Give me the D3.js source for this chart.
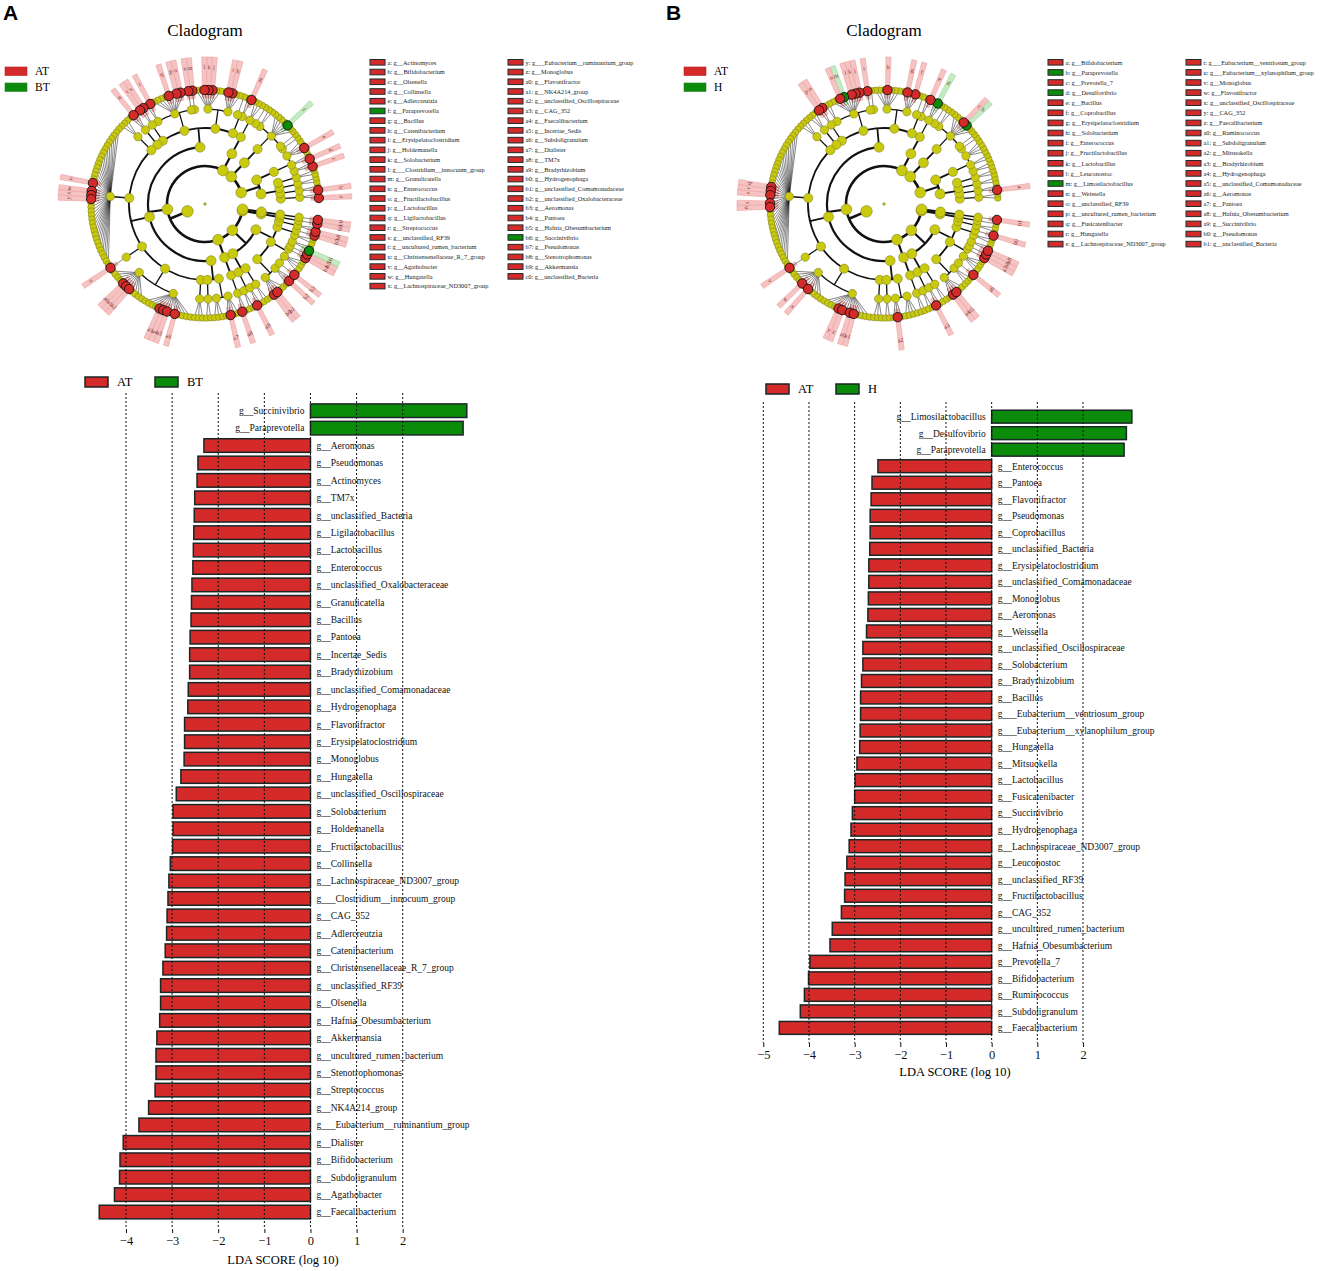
<!DOCTYPE html>
<html>
<head>
<meta charset="utf-8">
<script src="https://cdn.jsdelivr.net/npm/d3@7"></script>
<style>
body { margin: 0; background: #fff; }
text { font-family: "Liberation Serif", "Times New Roman", serif; }
</style>
</head>
<body>
<svg width="1325" height="1271"></svg>
<script>
// taxonomy used by both cladograms: phylum, class, order, family, unlabelled genera
const taxonomy = [
  ["Actinobacteriota","Actinobacteria","Actinomycetales","Actinomycetaceae",1],
  ["Actinobacteriota","Actinobacteria","Bifidobacteriales","Bifidobacteriaceae",1],
  ["Actinobacteriota","Actinobacteria","Corynebacteriales","Corynebacteriaceae",2],
  ["Actinobacteriota","Actinobacteria","Micrococcales","Micrococcaceae",2],
  ["Actinobacteriota","Coriobacteriia","Coriobacteriales","Atopobiaceae",1],
  ["Actinobacteriota","Coriobacteriia","Coriobacteriales","Coriobacteriaceae",1],
  ["Actinobacteriota","Coriobacteriia","Coriobacteriales","Eggerthellaceae",3],
  ["Bacteroidota","Bacteroidia","Bacteroidales","Bacteroidaceae",1],
  ["Bacteroidota","Bacteroidia","Bacteroidales","Muribaculaceae",1],
  ["Bacteroidota","Bacteroidia","Bacteroidales","Prevotellaceae",5],
  ["Bacteroidota","Bacteroidia","Bacteroidales","Rikenellaceae",2],
  ["Bacteroidota","Bacteroidia","Bacteroidales","Tannerellaceae",1],
  ["Desulfobacterota","Desulfovibrionia","Desulfovibrionales","Desulfovibrionaceae",2],
  ["Firmicutes","Bacilli","Bacillales","Bacillaceae",1],
  ["Firmicutes","Bacilli","Bacillales","Staphylococcaceae",1],
  ["Firmicutes","Bacilli","Erysipelotrichales","Erysipelatoclostridiaceae",2],
  ["Firmicutes","Bacilli","Erysipelotrichales","Erysipelotrichaceae",4],
  ["Firmicutes","Bacilli","Lactobacillales","Carnobacteriaceae",0],
  ["Firmicutes","Bacilli","Lactobacillales","Enterococcaceae",0],
  ["Firmicutes","Bacilli","Lactobacillales","Lactobacillaceae",3],
  ["Firmicutes","Bacilli","Lactobacillales","Streptococcaceae",1],
  ["Firmicutes","Bacilli","RF39","RF39_f",0],
  ["Firmicutes","Clostridia","Christensenellales","Christensenellaceae",2],
  ["Firmicutes","Clostridia","Clostridiales","Clostridiaceae",3],
  ["Firmicutes","Clostridia","Lachnospirales","Lachnospiraceae",30],
  ["Firmicutes","Clostridia","Monoglobales","Monoglobaceae",0],
  ["Firmicutes","Clostridia","Oscillospirales","Oscillospiraceae",8],
  ["Firmicutes","Clostridia","Oscillospirales","Ruminococcaceae",8],
  ["Firmicutes","Clostridia","Peptostreptococcales","Peptostreptococcaceae",3],
  ["Firmicutes","Negativicutes","Acidaminococcales","Acidaminococcaceae",2],
  ["Firmicutes","Negativicutes","Veillonellales","Selenomonadaceae",2],
  ["Firmicutes","Negativicutes","Veillonellales","Veillonellaceae",3],
  ["Patescibacteria","Saccharimonadia","Saccharimonadales","Saccharimonadaceae",1],
  ["Proteobacteria","Alphaproteobacteria","Rhizobiales","Rhizobiaceae",2],
  ["Proteobacteria","Alphaproteobacteria","Rhizobiales","Xanthobacteraceae",1],
  ["Proteobacteria","Alphaproteobacteria","Sphingomonadales","Sphingomonadaceae",2],
  ["Proteobacteria","Gammaproteobacteria","Burkholderiales","Comamonadaceae",3],
  ["Proteobacteria","Gammaproteobacteria","Burkholderiales","Oxalobacteraceae",2],
  ["Proteobacteria","Gammaproteobacteria","Enterobacterales","Aeromonadaceae",0],
  ["Proteobacteria","Gammaproteobacteria","Enterobacterales","Enterobacteriaceae",4],
  ["Proteobacteria","Gammaproteobacteria","Enterobacterales","Erwiniaceae",0],
  ["Proteobacteria","Gammaproteobacteria","Enterobacterales","Hafniaceae",0],
  ["Proteobacteria","Gammaproteobacteria","Enterobacterales","Succinivibrionaceae",1],
  ["Proteobacteria","Gammaproteobacteria","Pseudomonadales","Moraxellaceae",2],
  ["Proteobacteria","Gammaproteobacteria","Pseudomonadales","Pseudomonadaceae",0],
  ["Proteobacteria","Gammaproteobacteria","Xanthomonadales","Xanthomonadaceae",1],
  ["Verrucomicrobiota","Verrucomicrobiae","Verrucomicrobiales","Akkermansiaceae",0],
  ["Bacteria_unclassified","unclassified_c","unclassified_o","unclassified_f",0]
];

// named genera and their family
const genera = [
  ["Actinomyces","Actinomycetaceae"],["Bifidobacterium","Bifidobacteriaceae"],
  ["Olsenella","Atopobiaceae"],["Collinsella","Coriobacteriaceae"],["Adlercreutzia","Eggerthellaceae"],
  ["Paraprevotella","Prevotellaceae"],["Prevotella_7","Prevotellaceae"],
  ["Desulfovibrio","Desulfovibrionaceae"],["Bacillus","Bacillaceae"],
  ["Coprobacillus","Erysipelatoclostridiaceae"],["Catenibacterium","Erysipelatoclostridiaceae"],
  ["Erysipelatoclostridium","Erysipelatoclostridiaceae"],
  ["Holdemanella","Erysipelotrichaceae"],["Solobacterium","Erysipelotrichaceae"],
  ["_Clostridium__innocuum_group","Erysipelotrichaceae"],
  ["Granulicatella","Carnobacteriaceae"],["Enterococcus","Enterococcaceae"],
  ["Fructilactobacillus","Lactobacillaceae"],["Lactobacillus","Lactobacillaceae"],
  ["Leuconostoc","Lactobacillaceae"],["Ligilactobacillus","Lactobacillaceae"],
  ["Limosilactobacillus","Lactobacillaceae"],["Weissella","Lactobacillaceae"],
  ["Streptococcus","Streptococcaceae"],
  ["unclassified_RF39","RF39_f"],["uncultured_rumen_bacterium","RF39_f"],
  ["Christensenellaceae_R_7_group","Christensenellaceae"],
  ["Agathobacter","Lachnospiraceae"],["Fusicatenibacter","Lachnospiraceae"],
  ["Hungatella","Lachnospiraceae"],["Lachnospiraceae_ND3007_group","Lachnospiraceae"],
  ["_Eubacterium__ruminantium_group","Lachnospiraceae"],
  ["_Eubacterium__ventriosum_group","Lachnospiraceae"],
  ["_Eubacterium__xylanophilum_group","Lachnospiraceae"],
  ["Monoglobus","Monoglobaceae"],
  ["Flavonifractor","Oscillospiraceae"],["NK4A214_group","Oscillospiraceae"],
  ["unclassified_Oscillospiraceae","Oscillospiraceae"],
  ["CAG_352","Ruminococcaceae"],["Faecalibacterium","Ruminococcaceae"],
  ["Incertae_Sedis","Ruminococcaceae"],["Ruminococcus","Ruminococcaceae"],
  ["Subdoligranulum","Ruminococcaceae"],
  ["Mitsuokella","Selenomonadaceae"],["Dialister","Veillonellaceae"],
  ["TM7x","Saccharimonadaceae"],["Bradyrhizobium","Xanthobacteraceae"],
  ["Hydrogenophaga","Comamonadaceae"],["unclassified_Comamonadaceae","Comamonadaceae"],
  ["unclassified_Oxalobacteraceae","Oxalobacteraceae"],
  ["Aeromonas","Aeromonadaceae"],["Pantoea","Erwiniaceae"],
  ["Hafnia_Obesumbacterium","Hafniaceae"],["Succinivibrio","Succinivibrionaceae"],
  ["Pseudomonas","Pseudomonadaceae"],["Stenotrophomonas","Xanthomonadaceae"],
  ["Akkermansia","Akkermansiaceae"],["unclassified_Bacteria","unclassified_f"]
];

// cladogram legend order
const cladeA = ["Actinomyces","Bifidobacterium","Olsenella","Collinsella","Adlercreutzia","Paraprevotella",
  "Bacillus","Catenibacterium","Erysipelatoclostridium","Holdemanella","Solobacterium",
  "_Clostridium__innocuum_group","Granulicatella","Enterococcus","Fructilactobacillus","Lactobacillus",
  "Ligilactobacillus","Streptococcus","unclassified_RF39","uncultured_rumen_bacterium",
  "Christensenellaceae_R_7_group","Agathobacter","Hungatella","Lachnospiraceae_ND3007_group",
  "_Eubacterium__ruminantium_group","Monoglobus","Flavonifractor","NK4A214_group",
  "unclassified_Oscillospiraceae","CAG_352","Faecalibacterium","Incertae_Sedis","Subdoligranulum",
  "Dialister","TM7x","Bradyrhizobium","Hydrogenophaga","unclassified_Comamonadaceae",
  "unclassified_Oxalobacteraceae","Aeromonas","Pantoea","Hafnia_Obesumbacterium","Succinivibrio",
  "Pseudomonas","Stenotrophomonas","Akkermansia","unclassified_Bacteria"];
const cladeB = ["Bifidobacterium","Paraprevotella","Prevotella_7","Desulfovibrio","Bacillus","Coprobacillus",
  "Erysipelatoclostridium","Solobacterium","Enterococcus","Fructilactobacillus","Lactobacillus",
  "Leuconostoc","Limosilactobacillus","Weissella","unclassified_RF39","uncultured_rumen_bacterium",
  "Fusicatenibacter","Hungatella","Lachnospiraceae_ND3007_group","_Eubacterium__ventriosum_group",
  "_Eubacterium__xylanophilum_group","Monoglobus","Flavonifractor","unclassified_Oscillospiraceae",
  "CAG_352","Faecalibacterium","Ruminococcus","Subdoligranulum","Mitsuokella","Bradyrhizobium",
  "Hydrogenophaga","unclassified_Comamonadaceae","Aeromonas","Pantoea","Hafnia_Obesumbacterium",
  "Succinivibrio","Pseudomonas","unclassified_Bacteria"];

// LDA bars, top to bottom
const barNamesA = ["Succinivibrio","Paraprevotella","Aeromonas","Pseudomonas","Actinomyces","TM7x",
  "unclassified_Bacteria","Ligilactobacillus","Lactobacillus","Enterococcus","unclassified_Oxalobacteraceae",
  "Granulicatella","Bacillus","Pantoea","Incertae_Sedis","Bradyrhizobium","unclassified_Comamonadaceae",
  "Hydrogenophaga","Flavonifractor","Erysipelatoclostridium","Monoglobus","Hungatella",
  "unclassified_Oscillospiraceae","Solobacterium","Holdemanella","Fructilactobacillus","Collinsella",
  "Lachnospiraceae_ND3007_group","_Clostridium__innocuum_group","CAG_352","Adlercreutzia",
  "Catenibacterium","Christensenellaceae_R_7_group","unclassified_RF39","Olsenella",
  "Hafnia_Obesumbacterium","Akkermansia","uncultured_rumen_bacterium","Stenotrophomonas",
  "Streptococcus","NK4A214_group","_Eubacterium__ruminantium_group","Dialister","Bifidobacterium",
  "Subdoligranulum","Agathobacter","Faecalibacterium"];
const barValuesA = [3.39,3.31,-2.31,-2.44,-2.46,-2.51,-2.52,-2.53,-2.54,-2.55,-2.57,-2.58,-2.59,-2.61,
  -2.62,-2.62,-2.65,-2.66,-2.73,-2.73,-2.74,-2.81,-2.91,-2.98,-2.98,-2.99,-3.04,-3.07,-3.09,-3.11,
  -3.12,-3.15,-3.20,-3.25,-3.25,-3.27,-3.33,-3.35,-3.35,-3.37,-3.51,-3.72,-4.06,-4.13,-4.14,-4.25,-4.58];

const barNamesB = ["Limosilactobacillus","Desulfovibrio","Paraprevotella","Enterococcus","Pantoea",
  "Flavonifractor","Pseudomonas","Coprobacillus","unclassified_Bacteria","Erysipelatoclostridium",
  "unclassified_Comamonadaceae","Monoglobus","Aeromonas","Weissella","unclassified_Oscillospiraceae",
  "Solobacterium","Bradyrhizobium","Bacillus","_Eubacterium__ventriosum_group",
  "_Eubacterium__xylanophilum_group","Hungatella","Mitsuokella","Lactobacillus","Fusicatenibacter",
  "Succinivibrio","Hydrogenophaga","Lachnospiraceae_ND3007_group","Leuconostoc","unclassified_RF39",
  "Fructilactobacillus","CAG_352","uncultured_rumen_bacterium","Hafnia_Obesumbacterium","Prevotella_7",
  "Bifidobacterium","Ruminococcus","Subdoligranulum","Faecalibacterium"];
const barValuesB = [3.07,2.95,2.90,-2.49,-2.62,-2.64,-2.66,-2.66,-2.67,-2.69,-2.69,-2.70,-2.71,-2.74,
  -2.82,-2.82,-2.85,-2.87,-2.87,-2.88,-2.89,-2.95,-2.99,-3.00,-3.05,-3.08,-3.12,-3.17,-3.21,-3.22,
  -3.29,-3.49,-3.54,-3.98,-4.01,-4.10,-4.19,-4.65];

const ticksA = [-4,-3,-2,-1,0,1,2];
const ticksB = [-5,-4,-3,-2,-1,0,1,2];

const RED = "#d42a2a", GREEN = "#0a8c0a";
const svg = d3.select("svg");

// ---------- cladogram ----------
function buildTree() {
  const top = {name: "root", children: [{name: "Bacteria", children: []}]};
  const find = (parent, name) => {
    let c = parent.children.find(d => d.name === name);
    if (!c) { c = {name: name, children: []}; parent.children.push(c); }
    return c;
  };
  taxonomy.forEach(([p, c, o, f, n]) => {
    let node = top.children[0];
    [p, c, o, f].forEach(nm => node = find(node, nm));
    const half = Math.floor(n / 2);
    for (let i = 0; i < half; i++) node.children.push({name: f + "_" + i});
    genera.filter(g => g[1] === f).forEach(g => node.children.push({name: g[0]}));
    for (let i = half; i < n; i++) node.children.push({name: f + "_" + i});
  });
  return top;
}

const abc = "abcdefghijklmnopqrstuvwxyz";
const letterOf = i => i < 26 ? abc[i] : abc[Math.floor((i - 26) / 10)] + ((i - 26) % 10);

function drawCladogram(cx, cy, clade, names, values) {
  const value = new Map(names.map((n, i) => [n, values[i]]));
  const letter = new Map(clade.map((n, i) => [n, letterOf(i)]));
  const colorOf = n => value.get(n) > 0 ? GREEN : RED;

  const root = d3.hierarchy(buildTree());
  d3.cluster().size([2 * Math.PI * 0.975, 1]).separation(() => 1)(root);
  const step = 19;
  const a0 = 88 * Math.PI / 180;
  const ang = d => a0 - d.x;
  const rad = d => d.depth * step;
  const pt = (a, r) => [cx + r * Math.sin(a), cy - r * Math.cos(a)];
  const leaves = root.leaves();
  const half = Math.abs(leaves[1].x - leaves[0].x) / 2;

  const g = svg.append("g");
  const sig = leaves.filter(d => letter.has(d.data.name));

  // shaded sectors
  const wedge = d3.arc();
  g.append("g").attr("transform", `translate(${cx},${cy})`)
    .selectAll("path").data(sig).join("path")
    .attr("d", d => wedge({innerRadius: 106, outerRadius: 147, startAngle: ang(d) - half, endAngle: ang(d) + half}))
    .attr("fill", d => colorOf(d.data.name) === RED ? "#f6c3c3" : "#c4ebc4")
    .attr("stroke", d => colorOf(d.data.name) === RED ? "#eca0a0" : "#8fd58f")
    .attr("stroke-width", 0.6);

  // links
  const widths = [0, 2.6, 2.2, 1.8, 1.3, 0.5];
  const links = g.append("g").attr("fill", "none").attr("stroke", "#111");
  root.descendants().forEach(p => {
    if (!p.children || p.depth === 0) return;
    const rc = (p.depth + 1) * step;
    if (p.depth < 5) {
      const [x1, y1] = pt(ang(p), rad(p));
      const [x2, y2] = pt(ang(p), rc);
      const amin = d3.min(p.children, ang), amax = d3.max(p.children, ang);
      const path = d3.path();
      path.moveTo(x1, y1); path.lineTo(x2, y2);
      const [sx, sy] = pt(amin, rc);
      path.moveTo(sx, sy);
      path.arc(cx, cy, rc, amin - Math.PI / 2, amax - Math.PI / 2);
      links.append("path").attr("d", path.toString()).attr("stroke-width", widths[p.depth]);
    } else {
      p.children.forEach(c => {
        const [x1, y1] = pt(ang(p), rad(p));
        const [x2, y2] = pt(ang(c), rad(c));
        links.append("line").attr("x1", x1).attr("y1", y1).attr("x2", x2).attr("y2", y2)
          .attr("stroke-width", widths[5]);
      });
    }
  });

  // nodes
  const sizes = [1.3, 5.8, 5.4, 5.0, 4.6, 4.2, 3.3];
  const nodes = root.descendants().sort((a, b) => letter.has(a.data.name) - letter.has(b.data.name));
  g.append("g").selectAll("circle").data(nodes).join("circle")
    .attr("cx", d => pt(ang(d), rad(d))[0])
    .attr("cy", d => pt(ang(d), rad(d))[1])
    .attr("r", d => letter.has(d.data.name) ? 4.7 : sizes[d.depth])
    .attr("fill", d => letter.has(d.data.name) ? colorOf(d.data.name) : "#c9c90e")
    .attr("stroke", d => letter.has(d.data.name) ? "#111" : "#77772a")
    .attr("stroke-width", d => letter.has(d.data.name) ? 0.9 : 0.5);

  // sector letters
  g.append("g").selectAll("text").data(sig).join("text")
    .attr("transform", d => {
      const a = ang(d);
      const [x, y] = pt(a, 137);
      let deg = a * 180 / Math.PI;
      deg = ((deg % 360) + 360) % 360;
      if (deg > 90 && deg < 270) deg += 180;
      return `translate(${x},${y}) rotate(${deg})`;
    })
    .attr("text-anchor", "middle").attr("dy", "0.35em")
    .attr("font-size", 6).attr("fill", "#7a2e2e")
    .text(d => letter.get(d.data.name));
}

function drawCladeLegend(x1, x2, y0, dy, nCol1, clade, names, values) {
  const value = new Map(names.map((n, i) => [n, values[i]]));
  const g = svg.append("g");
  clade.forEach((n, i) => {
    const col = i < nCol1 ? 0 : 1;
    const row = col ? i - nCol1 : i;
    const x = col ? x2 : x1, y = y0 + row * dy;
    g.append("rect").attr("x", x).attr("y", y - 2.8).attr("width", 15).attr("height", 5.6)
      .attr("fill", value.get(n) > 0 ? GREEN : RED).attr("stroke", "#1e2b2b").attr("stroke-width", 1);
    g.append("text").attr("x", x + 17.5).attr("y", y).attr("dy", "0.35em")
      .attr("font-size", 6.3).attr("fill", "#222").text(`${letterOf(i)}: g__${n}`);
  });
}

function drawGroupKey(x, y, labels, fs) {
  const g = svg.append("g");
  labels.forEach((l, i) => {
    g.append("rect").attr("x", x).attr("y", y + i * 16 - 4).attr("width", 22).attr("height", 8.5)
      .attr("fill", i ? GREEN : RED).attr("stroke", i ? "#2a7a2a" : "#b02020").attr("stroke-width", 0.6);
    g.append("text").attr("x", x + 30).attr("y", y + i * 16).attr("dy", "0.35em")
      .attr("font-size", fs).text(l);
  });
}

// ---------- LDA bar chart ----------
function drawBars(o) {
  const x = d3.scaleLinear().domain(o.domain).range(o.range);
  const y = d3.scaleBand().domain(o.names).range([o.top, o.top + o.names.length * o.step])
    .paddingInner(0.22).paddingOuter(0.11);
  const g = svg.append("g");

  g.selectAll("rect.bar").data(o.names).join("rect")
    .attr("class", "bar")
    .attr("x", (d, i) => x(Math.min(0, o.values[i])))
    .attr("y", d => y(d))
    .attr("width", (d, i) => Math.abs(x(o.values[i]) - x(0)))
    .attr("height", y.bandwidth())
    .attr("fill", (d, i) => o.values[i] > 0 ? GREEN : RED)
    .attr("stroke", "#1b2626").attr("stroke-width", 1.5);

  g.selectAll("line.grid").data(o.ticks).join("line")
    .attr("class", "grid")
    .attr("x1", d => x(d)).attr("x2", d => x(d))
    .attr("y1", o.gridTop).attr("y2", o.axisY)
    .attr("stroke", "#111").attr("stroke-width", 1).attr("stroke-dasharray", "2,2");

  g.selectAll("text.lab").data(o.names).join("text")
    .attr("class", "lab")
    .attr("x", (d, i) => o.values[i] > 0 ? x(0) - 6 : x(0) + 6)
    .attr("y", d => y(d) + y.bandwidth() / 2).attr("dy", "0.35em")
    .attr("text-anchor", (d, i) => o.values[i] > 0 ? "end" : "start")
    .attr("font-size", 9.5).attr("fill", "#111")
    .text(d => "g__" + d);

  const axis = g.append("g").attr("transform", `translate(0,${o.axisY})`)
    .call(d3.axisBottom(x).tickValues(o.ticks).tickFormat(d3.format("d")).tickSize(4).tickPadding(3));
  axis.select(".domain").remove();
  axis.selectAll("text").attr("font-size", 12.5).attr("font-family", "Liberation Serif, serif").attr("fill", "#111");
  axis.selectAll(".tick line").attr("stroke", "#111");

  g.append("text").attr("x", o.titleX).attr("y", o.titleY).attr("dy", "0.35em")
    .attr("text-anchor", "middle").attr("font-size", 12.5).text("LDA SCORE (log 10)");

  o.legend.forEach((l, i) => {
    const lx = o.legendX + i * 70;
    g.append("rect").attr("x", lx).attr("y", o.legendY - 5).attr("width", 23).attr("height", 10)
      .attr("fill", i ? GREEN : RED).attr("stroke", "#1b2626").attr("stroke-width", 1.5);
    g.append("text").attr("x", lx + 32).attr("y", o.legendY).attr("dy", "0.35em")
      .attr("font-size", 12.5).text(l);
  });
}

// panel letters and titles
svg.append("text").attr("x", 3).attr("y", 20).attr("font-size", 21).attr("font-weight", "bold")
  .style("font-family", "Liberation Sans, Arial, sans-serif").text("A");
svg.append("text").attr("x", 666).attr("y", 20).attr("font-size", 21).attr("font-weight", "bold")
  .style("font-family", "Liberation Sans, Arial, sans-serif").text("B");
svg.append("text").attr("x", 205).attr("y", 30).attr("dy", "0.35em").attr("text-anchor", "middle")
  .attr("font-size", 17).text("Cladogram");
svg.append("text").attr("x", 884).attr("y", 30).attr("dy", "0.35em").attr("text-anchor", "middle")
  .attr("font-size", 17).text("Cladogram");

drawGroupKey(5, 71, ["AT", "BT"], 11.5);
drawGroupKey(684, 71, ["AT", "H"], 11.5);

drawCladogram(205, 204, cladeA, barNamesA, barValuesA);
drawCladogram(884, 204, cladeB, barNamesB, barValuesB);

drawCladeLegend(370, 508, 62.3, 9.73, 24, cladeA, barNamesA, barValuesA);
drawCladeLegend(1048, 1186, 62.3, 10.1, 19, cladeB, barNamesB, barValuesB);

drawBars({names: barNamesA, values: barValuesA, ticks: ticksA, domain: [-4, 2], range: [126, 402.7],
  top: 402.0, step: 17.42, gridTop: 393, axisY: 1229, titleX: 283, titleY: 1260,
  legend: ["AT", "BT"], legendX: 85, legendY: 382});
drawBars({names: barNamesB, values: barValuesB, ticks: ticksB, domain: [-5, 2], range: [763.3, 1083],
  top: 408.4, step: 16.52, gridTop: 402, axisY: 1043, titleX: 955, titleY: 1072,
  legend: ["AT", "H"], legendX: 766, legendY: 389});
</script>
</body>
</html>
